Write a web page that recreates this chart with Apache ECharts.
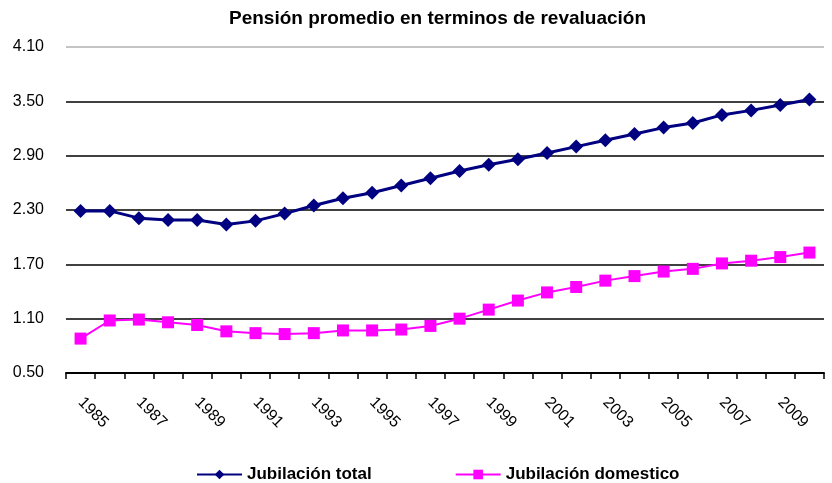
<!DOCTYPE html>
<html>
<head>
<meta charset="utf-8">
<script src="https://cdn.jsdelivr.net/npm/echarts@6/dist/echarts.min.js"></script>
<style>
  html, body { margin: 0; padding: 0; background: #fff; }
  #chart { width: 832px; height: 483px; }
</style>
</head>
<body>
<div id="chart"></div>
<script>
  // años 1985-2010
  var years = ['1985','1986','1987','1988','1989','1990','1991','1992','1993','1994','1995','1996','1997',
               '1998','1999','2000','2001','2002','2003','2004','2005','2006','2007','2008','2009','2010']
  var jubTotal = [2.29, 2.29, 2.21, 2.19, 2.19, 2.14, 2.18, 2.26, 2.35, 2.43, 2.49, 2.57, 2.65,
                  2.73, 2.80, 2.86, 2.93, 3.00, 3.07, 3.14, 3.21, 3.26, 3.35, 3.40, 3.46, 3.52]
  var jubDomestico = [0.88, 1.08, 1.09, 1.06, 1.03, 0.96, 0.94, 0.93, 0.94, 0.97, 0.97, 0.98, 1.02,
                      1.10, 1.20, 1.30, 1.39, 1.45, 1.52, 1.57, 1.62, 1.65, 1.71, 1.74, 1.78, 1.83]
  var yMin = 0.5, yMax = 4.1, yStep = 0.6

  var myChart = echarts.init(document.getElementById('chart'))
  var font = 'Arial, "Liberation Sans", sans-serif'
  var option = {
    animation: false,
    backgroundColor: '#fff',
    title: {
      text: 'Pensión promedio en terminos de revaluación',
      left: 224,
      top: 4,
      textStyle: { fontFamily: font, fontSize: 19, fontWeight: 'bold', color: '#000' }
    },
    legend: {
      top: 461,
      left: 191,
      itemWidth: 45,
      itemHeight: 12,
      itemGap: 83,
      textStyle: { fontFamily: font, fontSize: 17, fontWeight: 'bold', color: '#000' },
      data: ['Jubilación total', 'Jubilación domestico']
    },
    grid: { left: 66, right: 8, top: 47, bottom: 110, containLabel: false },
    xAxis: {
      type: 'category',
      data: years,
      boundaryGap: true,
      axisLine: { lineStyle: { color: '#000', width: 2 } },
      axisTick: { show: true, interval: 0, length: 6, lineStyle: { color: '#000', width: 1.5 } },
      axisLabel: {
        interval: 1,
        rotate: -45,
        margin: 27,
        fontFamily: font,
        fontSize: 16,
        color: '#000'
      }
    },
    yAxis: {
      type: 'value',
      min: yMin,
      max: yMax,
      interval: yStep,
      axisLine: { show: false },
      axisTick: { show: false },
      axisLabel: {
        margin: 22,
        fontFamily: font,
        fontSize: 16,
        color: '#000',
        formatter: function (v) { return v.toFixed(2) }
      },
      splitLine: { lineStyle: { color: ['#000', '#000', '#000', '#000', '#000', '#000', '#b0b0b0'], width: 1.5 } }
    },
    series: [
      {
        name: 'Jubilación total',
        type: 'line',
        data: jubTotal,
        symbol: 'diamond',
        symbolSize: 14,
        itemStyle: { color: '#000080' },
        lineStyle: { color: '#000080', width: 3 }
      },
      {
        name: 'Jubilación domestico',
        type: 'line',
        data: jubDomestico,
        symbol: 'rect',
        symbolSize: 12,
        itemStyle: { color: '#ff00ff' },
        lineStyle: { color: '#ff00ff', width: 2 }
      }
    ]
  }
  myChart.setOption(option)
</script>
</body>
</html>
